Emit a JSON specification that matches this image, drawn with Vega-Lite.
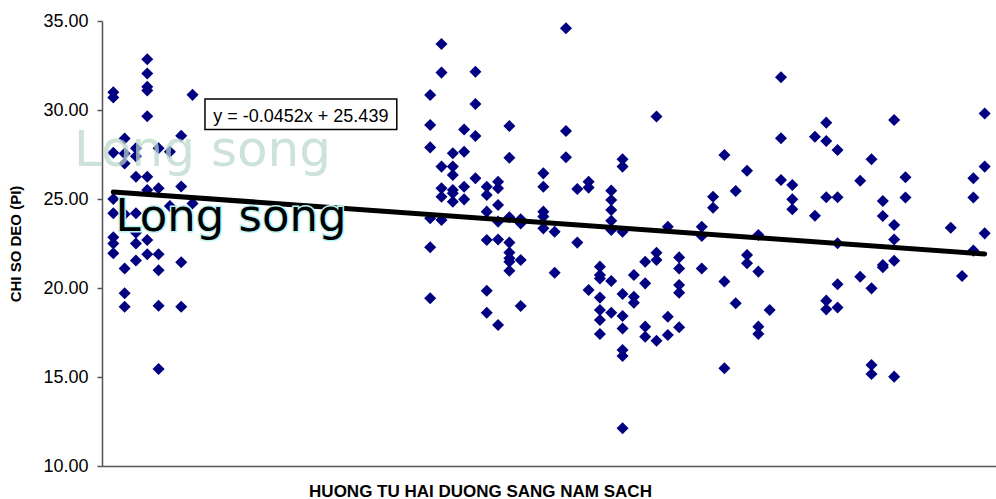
{
  "$schema": "https://vega.github.io/schema/vega-lite/v6.json",
  "width": 894,
  "height": 445,
  "autosize": {"type": "none"},
  "padding": {"left": 102, "top": 21, "right": 0, "bottom": 33},
  "background": "white",
  "config": {"view": {"stroke": null}, "font": "Liberation Sans"},
  "datasets": {
    "points": [
      {"x":1,"y":31.0},{"x":1,"y":30.7},{"x":1,"y":27.6},{"x":1,"y":25.0},{"x":1,"y":24.2},{"x":1,"y":22.85},{"x":1,"y":22.5},{"x":1,"y":21.95},
      {"x":2,"y":28.4},{"x":2,"y":27.55},{"x":2,"y":27.0},{"x":2,"y":24.15},{"x":2,"y":21.1},{"x":2,"y":19.7},{"x":2,"y":18.95},
      {"x":3,"y":27.85},{"x":3,"y":27.4},{"x":3,"y":26.25},{"x":3,"y":24.2},{"x":3,"y":23.1},{"x":3,"y":22.5},{"x":3,"y":21.55},
      {"x":4,"y":32.85},{"x":4,"y":32.05},{"x":4,"y":31.3},{"x":4,"y":31.1},{"x":4,"y":29.65},{"x":4,"y":26.25},{"x":4,"y":25.5},{"x":4,"y":22.7},{"x":4,"y":21.9},
      {"x":5,"y":27.85},{"x":5,"y":25.6},{"x":5,"y":21.9},{"x":5,"y":21.0},{"x":5,"y":19.0},{"x":5,"y":15.45},
      {"x":6,"y":27.65},{"x":6,"y":24.6},
      {"x":7,"y":28.55},{"x":7,"y":25.7},{"x":7,"y":21.45},{"x":7,"y":18.95},
      {"x":8,"y":30.85},{"x":8,"y":24.75},
      {"x":29,"y":30.84},{"x":29,"y":29.16},{"x":29,"y":27.9},{"x":29,"y":23.92},{"x":29,"y":22.29},{"x":29,"y":19.42},
      {"x":30,"y":33.71},{"x":30,"y":32.1},{"x":30,"y":26.82},{"x":30,"y":25.6},{"x":30,"y":25.13},{"x":30,"y":23.82},
      {"x":31,"y":27.57},{"x":31,"y":26.82},{"x":31,"y":26.35},{"x":31,"y":25.51},{"x":31,"y":25.32},{"x":31,"y":24.85},
      {"x":32,"y":28.91},{"x":32,"y":27.66},{"x":32,"y":25.69},{"x":32,"y":24.98},
      {"x":33,"y":32.15},{"x":33,"y":30.34},{"x":33,"y":28.54},{"x":33,"y":26.16},
      {"x":34,"y":25.69},{"x":34,"y":25.22},{"x":34,"y":24.29},{"x":34,"y":22.7},{"x":34,"y":19.85},{"x":34,"y":18.61},
      {"x":35,"y":25.97},{"x":35,"y":25.6},{"x":35,"y":24.66},{"x":35,"y":23.73},{"x":35,"y":22.73},{"x":35,"y":17.92},
      {"x":36,"y":29.1},{"x":36,"y":27.32},{"x":36,"y":23.97},{"x":36,"y":22.55},{"x":36,"y":21.99},{"x":36,"y":21.67},{"x":36,"y":21.48},{"x":36,"y":20.97},
      {"x":37,"y":23.86},{"x":37,"y":23.63},{"x":37,"y":21.57},{"x":37,"y":18.99},
      {"x":39,"y":26.44},{"x":39,"y":25.69},{"x":39,"y":24.29},{"x":39,"y":24.01},{"x":39,"y":23.35},
      {"x":40,"y":23.16},{"x":40,"y":20.86},
      {"x":41,"y":34.59},{"x":41,"y":28.82},{"x":41,"y":27.34},
      {"x":42,"y":25.56},{"x":42,"y":22.55},
      {"x":43,"y":25.97},{"x":43,"y":25.64},{"x":43,"y":19.89},
      {"x":44,"y":21.2},{"x":44,"y":20.73},{"x":44,"y":20.54},{"x":44,"y":19.46},{"x":44,"y":18.76},{"x":44,"y":18.2},{"x":44,"y":17.42},
      {"x":45,"y":25.47},{"x":45,"y":24.94},{"x":45,"y":24.38},{"x":45,"y":23.78},{"x":45,"y":23.26},{"x":45,"y":20.39},{"x":45,"y":18.61},
      {"x":46,"y":27.23},{"x":46,"y":26.82},{"x":46,"y":23.16},{"x":46,"y":19.66},{"x":46,"y":18.43},{"x":46,"y":17.73},{"x":46,"y":16.52},{"x":46,"y":16.18},{"x":46,"y":12.12},
      {"x":47,"y":20.73},{"x":47,"y":19.51},{"x":47,"y":19.17},
      {"x":48,"y":21.48},{"x":48,"y":20.26},{"x":48,"y":17.83},{"x":48,"y":17.26},
      {"x":49,"y":29.63},{"x":49,"y":21.98},{"x":49,"y":21.57},{"x":49,"y":17.04},
      {"x":50,"y":23.44},{"x":50,"y":18.39},{"x":50,"y":17.36},
      {"x":51,"y":21.72},{"x":51,"y":21.1},{"x":51,"y":20.17},{"x":51,"y":19.74},{"x":51,"y":17.79},
      {"x":53,"y":23.44},{"x":53,"y":22.92},{"x":53,"y":21.1},
      {"x":54,"y":25.13},{"x":54,"y":24.51},
      {"x":55,"y":27.47},{"x":55,"y":20.36},{"x":55,"y":15.49},
      {"x":56,"y":25.45},{"x":56,"y":19.14},
      {"x":57,"y":26.59},{"x":57,"y":21.85},{"x":57,"y":21.39},
      {"x":58,"y":22.98},{"x":58,"y":20.92},{"x":58,"y":17.83},{"x":58,"y":17.42},
      {"x":59,"y":18.76},
      {"x":60,"y":31.84},{"x":60,"y":28.41},{"x":60,"y":26.07},
      {"x":61,"y":25.79},{"x":61,"y":24.98},{"x":61,"y":24.42},
      {"x":63,"y":28.5},{"x":63,"y":24.06},
      {"x":64,"y":29.29},{"x":64,"y":28.26},{"x":64,"y":25.1},{"x":64,"y":19.29},{"x":64,"y":18.8},
      {"x":65,"y":27.75},{"x":65,"y":25.1},{"x":65,"y":22.51},{"x":65,"y":20.21},{"x":65,"y":18.9},
      {"x":67,"y":26.03},{"x":67,"y":20.63},
      {"x":68,"y":27.23},{"x":68,"y":19.98},{"x":68,"y":15.67},{"x":68,"y":15.17},
      {"x":69,"y":24.89},{"x":69,"y":24.04},{"x":69,"y":21.29},{"x":69,"y":21.16},
      {"x":70,"y":29.44},{"x":70,"y":23.54},{"x":70,"y":22.73},{"x":70,"y":21.53},{"x":70,"y":15.02},
      {"x":71,"y":26.22},{"x":71,"y":25.08},
      {"x":75,"y":23.39},
      {"x":76,"y":20.67},
      {"x":77,"y":26.16},{"x":77,"y":25.08},{"x":77,"y":22.1},
      {"x":78,"y":29.8},{"x":78,"y":26.82},{"x":78,"y":23.07}
    ],
    "trend": [{"x":1,"y":25.394},{"x":78,"y":21.914}]
  },
  "layer": [
    {
      "data": {"name": "points"},
      "mark": {"type": "point", "shape": "diamond", "filled": true, "color": "#000080", "size": 145, "opacity": 1},
      "encoding": {
        "x": {
          "field": "x", "type": "quantitative",
          "scale": {"domain": [0, 79], "nice": false, "zero": false},
          "axis": {
            "title": "HUONG TU HAI DUONG SANG NAM SACH",
            "labels": false, "ticks": false, "grid": false,
            "domainColor": "#555555", "domainWidth": 1.5,
            "titleFont": "Liberation Sans", "titleFontSize": 17, "titleFontWeight": "bold", "titleColor": "#000000",
            "titleX": 378, "titleY": 30, "titleAlign": "center", "titleBaseline": "alphabetic"
          }
        },
        "y": {
          "field": "y", "type": "quantitative",
          "scale": {"domain": [10, 35], "nice": false, "zero": false},
          "axis": {
            "title": "CHI SO DEO (PI)",
            "values": [10, 15, 20, 25, 30, 35], "format": ".2f", "grid": false,
            "domainColor": "#555555", "domainWidth": 1.5,
            "tickColor": "#555555", "tickSize": 5, "tickWidth": 1.5,
            "labelFont": "Liberation Sans", "labelFontSize": 18, "labelColor": "#000000", "labelPadding": 9,
            "titleFont": "Liberation Sans", "titleFontSize": 15, "titleFontWeight": "bold", "titleColor": "#000000",
            "titleX": -82, "titleY": 222.5, "titleAngle": 270, "titleAlign": "center", "titleBaseline": "alphabetic"
          }
        }
      }
    },
    {
      "data": {"name": "trend"},
      "mark": {"type": "line", "color": "#000000", "strokeWidth": 5, "strokeCap": "round"},
      "encoding": {
        "x": {"field": "x", "type": "quantitative"},
        "y": {"field": "y", "type": "quantitative"}
      }
    },
    {
      "data": {"values": [{"x": 8.88, "y": 26.83, "t": "Long song"}]},
      "mark": {"type": "text", "font": "DejaVu Sans", "fontSize": 50, "align": "center", "baseline": "alphabetic", "color": "#bad7ca", "opacity": 0.72},
      "encoding": {
        "x": {"field": "x", "type": "quantitative"},
        "y": {"field": "y", "type": "quantitative"},
        "text": {"field": "t"}
      }
    },
    {
      "data": {"values": [{"x": 11.4, "y": 23.2, "t": "Long song"}]},
      "mark": {"type": "text", "font": "DejaVu Sans", "fontSize": 45, "align": "center", "baseline": "alphabetic", "fill": "#b8f4f4", "stroke": "#b8f4f4", "strokeWidth": 3},
      "encoding": {
        "x": {"field": "x", "type": "quantitative"},
        "y": {"field": "y", "type": "quantitative"},
        "text": {"field": "t"}
      }
    },
    {
      "data": {"values": [{"x": 11.4, "y": 23.2, "t": "Long song"}]},
      "mark": {"type": "text", "font": "DejaVu Sans", "fontSize": 45, "align": "center", "baseline": "alphabetic", "color": "#000000"},
      "encoding": {
        "x": {"field": "x", "type": "quantitative"},
        "y": {"field": "y", "type": "quantitative"},
        "text": {"field": "t"}
      }
    },
    {
      "data": {"values": [{"x": 9.1, "x2": 26.05, "y": 30.62, "y2": 28.9}]},
      "mark": {"type": "rect", "fill": "#ffffff", "stroke": "#000000", "strokeWidth": 1.5},
      "encoding": {
        "x": {"field": "x", "type": "quantitative"},
        "x2": {"field": "x2"},
        "y": {"field": "y", "type": "quantitative"},
        "y2": {"field": "y2"}
      }
    },
    {
      "data": {"values": [{"x": 17.57, "y": 29.34, "t": "y = -0.0452x + 25.439"}]},
      "mark": {"type": "text", "font": "Liberation Sans", "fontSize": 18, "align": "center", "baseline": "alphabetic", "color": "#000000"},
      "encoding": {
        "x": {"field": "x", "type": "quantitative"},
        "y": {"field": "y", "type": "quantitative"},
        "text": {"field": "t"}
      }
    }
  ]
}
